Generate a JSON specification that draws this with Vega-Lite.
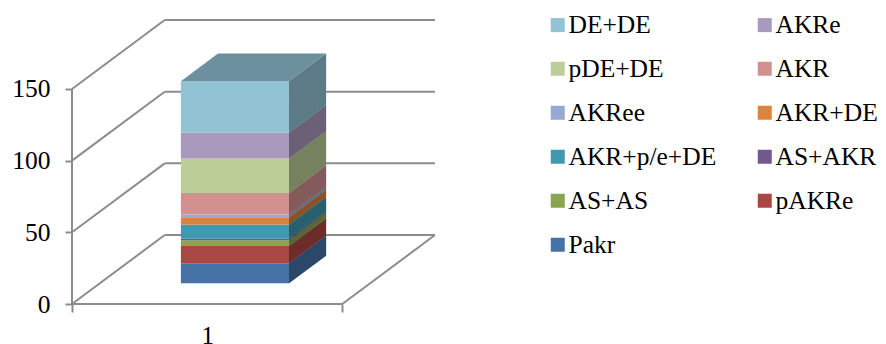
{
  "$schema": "https://vega.github.io/schema/vega-lite/v6.json",
  "width": 363,
  "height": 284,
  "autosize": {"type": "none"},
  "padding": {"left": 72, "top": 20, "right": 451, "bottom": 40},
  "background": "white",
  "config": {"view": {"stroke": null}, "font": "'Liberation Serif', 'DejaVu Serif', serif"},
  "datasets": {
    "counts": [
      {"group": "Pakr", "count": 14},
      {"group": "pAKRe", "count": 12},
      {"group": "AS+AS", "count": 4},
      {"group": "AS+AKR", "count": 1},
      {"group": "AKR+p/e+DE", "count": 10},
      {"group": "AKR+DE", "count": 5},
      {"group": "AKRee", "count": 2},
      {"group": "AKR", "count": 15},
      {"group": "pDE+DE", "count": 24},
      {"group": "AKRe", "count": 18},
      {"group": "DE+DE", "count": 36}
    ],
    "levels": [{"level": 0}, {"level": 50}, {"level": 100}, {"level": 150}]
  },
  "layer": [
    {
      "description": "left wall: each level runs diagonally back into depth; this layer also carries both axes",
      "data": {"name": "levels"},
      "transform": [
        {"calculate": "datum.level + 48.1", "as": "wallY"},
        {"calculate": "0", "as": "wallStart"},
        {"calculate": "0.343", "as": "wallEnd"}
      ],
      "mark": {"type": "rule", "color": "#8c8c8c", "strokeWidth": 2},
      "encoding": {
        "x": {
          "field": "wallStart", "type": "quantitative",
          "scale": {"domain": [0, 1.343], "nice": false, "zero": false},
          "axis": {
            "values": [0, 0.5, 1],
            "labelExpr": "datum.value == 0.5 ? '1' : ''",
            "domain": false, "grid": false, "title": null,
            "tickColor": "#8c8c8c", "tickWidth": 2, "tickSize": 8,
            "tickOpacity": {"condition": {"test": "datum.value == 0.5", "value": 0}, "value": 1},
            "labelFont": "'Liberation Serif', 'DejaVu Serif', serif", "labelFontSize": 25, "labelColor": "#000000",
            "labelPadding": 11, "labelFlush": false
          }
        },
        "x2": {"field": "wallEnd"},
        "y": {
          "field": "level", "type": "quantitative",
          "scale": {"domain": [0, 198.1], "nice": false, "zero": false},
          "axis": {
            "values": [0, 50, 100, 150],
            "domain": false, "grid": false, "title": null,
            "tickColor": "#8c8c8c", "tickWidth": 2, "tickSize": 7,
            "labelFont": "'Liberation Serif', 'DejaVu Serif', serif", "labelFontSize": 25.5, "labelColor": "#000000",
            "labelPadding": 15
          }
        },
        "y2": {"field": "wallY"}
      }
    },
    {
      "description": "back wall gridlines",
      "data": {"name": "levels"},
      "transform": [{"calculate": "datum.level + 48.1", "as": "wallY"}],
      "mark": {"type": "rule", "color": "#8c8c8c", "strokeWidth": 2},
      "encoding": {
        "x": {"datum": 0.343, "type": "quantitative", "scale": {"domain": [0, 1.343], "nice": false, "zero": false}},
        "x2": {"datum": 1.343},
        "y": {"field": "wallY", "type": "quantitative", "scale": {"domain": [0, 198.1], "nice": false, "zero": false}}
      }
    },
    {
      "description": "vertical value axis line",
      "data": {"name": "levels"},
      "transform": [{"aggregate": [{"op": "min", "field": "level", "as": "low"}, {"op": "max", "field": "level", "as": "high"}]}],
      "mark": {"type": "rule", "color": "#8c8c8c", "strokeWidth": 2},
      "encoding": {
        "x": {"datum": 0, "type": "quantitative", "scale": {"domain": [0, 1.343], "nice": false, "zero": false}},
        "y": {"field": "low", "type": "quantitative", "scale": {"domain": [0, 198.1], "nice": false, "zero": false}},
        "y2": {"field": "high"}
      }
    },
    {
      "description": "floor front edge",
      "data": {"name": "levels"},
      "transform": [{"filter": "datum.level == 0"}],
      "mark": {"type": "rule", "color": "#8c8c8c", "strokeWidth": 2},
      "encoding": {
        "x": {"datum": 0, "type": "quantitative", "scale": {"domain": [0, 1.343], "nice": false, "zero": false}},
        "x2": {"datum": 1},
        "y": {"field": "level", "type": "quantitative", "scale": {"domain": [0, 198.1], "nice": false, "zero": false}}
      }
    },
    {
      "description": "floor right edge",
      "data": {"name": "levels"},
      "transform": [{"filter": "datum.level == 0"}, {"calculate": "datum.level + 48.1", "as": "wallY"}],
      "mark": {"type": "rule", "color": "#8c8c8c", "strokeWidth": 2},
      "encoding": {
        "x": {"datum": 1, "type": "quantitative", "scale": {"domain": [0, 1.343], "nice": false, "zero": false}},
        "x2": {"datum": 1.343},
        "y": {"field": "level", "type": "quantitative", "scale": {"domain": [0, 198.1], "nice": false, "zero": false}},
        "y2": {"field": "wallY"}
      }
    },
    {
      "description": "front faces of the stacked column",
      "data": {"name": "counts"},
      "transform": [
        {"stack": "count", "groupby": [], "as": ["lo", "hi"]},
        {"calculate": "datum.lo + 0.3 * 48.1", "as": "fy"},
        {"calculate": "datum.hi + 0.3 * 48.1", "as": "fy2"}
      ],
      "mark": {"type": "rect", "strokeWidth": 0},
      "encoding": {
        "x": {"datum": 0.4029, "type": "quantitative", "scale": {"domain": [0, 1.343], "nice": false, "zero": false}},
        "x2": {"datum": 0.8029},
        "y": {"field": "fy", "type": "quantitative", "scale": {"domain": [0, 198.1], "nice": false, "zero": false}},
        "y2": {"field": "fy2"},
        "color": {
          "field": "group", "type": "nominal",
          "scale": {
            "domain": ["DE+DE", "pDE+DE", "AKRee", "AKR+p/e+DE", "AS+AS", "Pakr", "AKRe", "AKR", "AKR+DE", "AS+AKR", "pAKRe"],
            "range": ["#92C3D5", "#BCCD97", "#95A9D2", "#4198AF", "#89A54E", "#4572A7", "#A99ABD", "#D2918F", "#DB843D", "#71588F", "#AA4643"]
          },
          "legend": {
            "orient": "none", "legendX": 473, "legendY": -8,
            "columns": 2, "columnPadding": 35, "rowPadding": 17,
            "symbolType": "square", "symbolSize": 196, "symbolStrokeWidth": 0, "symbolOpacity": 1,
            "labelFont": "'Liberation Serif', 'DejaVu Serif', serif", "labelFontSize": 25.5, "labelColor": "#000000",
            "labelOffset": -2, "labelLimit": 300, "title": null
          }
        }
      }
    },
    {
      "description": "right side faces, one parallelogram per segment",
      "data": {"name": "counts"},
      "transform": [
        {"stack": "count", "groupby": [], "as": ["lo", "hi"]},
        {"calculate": "0.3", "as": "near"},
        {"calculate": "0.7", "as": "far"},
        {"fold": ["near", "far"], "as": ["face", "depth"]},
        {"calculate": "0.7 + datum.depth * 0.343", "as": "sx"},
        {"calculate": "datum.lo + datum.depth * 48.1", "as": "sy"},
        {"calculate": "datum.hi + datum.depth * 48.1", "as": "sy2"}
      ],
      "layer": [
        {
          "mark": {"type": "area", "strokeWidth": 0},
          "encoding": {
            "x": {"field": "sx", "type": "quantitative", "scale": {"domain": [0, 1.343], "nice": false, "zero": false}},
            "y": {"field": "sy", "type": "quantitative", "stack": null, "scale": {"domain": [0, 198.1], "nice": false, "zero": false}},
            "y2": {"field": "sy2"},
            "color": {"field": "group", "type": "nominal", "legend": null},
            "detail": {"field": "group"}
          }
        },
        {
          "mark": {"type": "area", "color": "#000000", "opacity": 0.37, "strokeWidth": 0},
          "encoding": {
            "x": {"field": "sx", "type": "quantitative", "scale": {"domain": [0, 1.343], "nice": false, "zero": false}},
            "y": {"field": "sy", "type": "quantitative", "stack": null, "scale": {"domain": [0, 198.1], "nice": false, "zero": false}},
            "y2": {"field": "sy2"},
            "detail": {"field": "group"}
          }
        }
      ]
    },
    {
      "description": "top face of the column",
      "data": {"name": "counts"},
      "transform": [
        {"stack": "count", "groupby": [], "as": ["lo", "hi"]},
        {"joinaggregate": [{"op": "max", "field": "hi", "as": "total"}]},
        {"filter": "datum.hi == datum.total"},
        {"calculate": "0.3", "as": "near"},
        {"calculate": "0.7", "as": "far"},
        {"fold": ["near", "far"], "as": ["face", "depth"]},
        {"calculate": "0.3 + datum.depth * 0.343", "as": "tx"},
        {"calculate": "0.7 + datum.depth * 0.343", "as": "tx2"},
        {"calculate": "datum.hi + datum.depth * 48.1", "as": "ty"}
      ],
      "mark": {"type": "area", "orient": "horizontal", "color": "#6C909E", "strokeWidth": 0},
      "encoding": {
        "y": {"field": "ty", "type": "quantitative", "scale": {"domain": [0, 198.1], "nice": false, "zero": false}},
        "x": {"field": "tx", "type": "quantitative", "stack": null, "scale": {"domain": [0, 1.343], "nice": false, "zero": false}},
        "x2": {"field": "tx2"}
      }
    }
  ]
}
